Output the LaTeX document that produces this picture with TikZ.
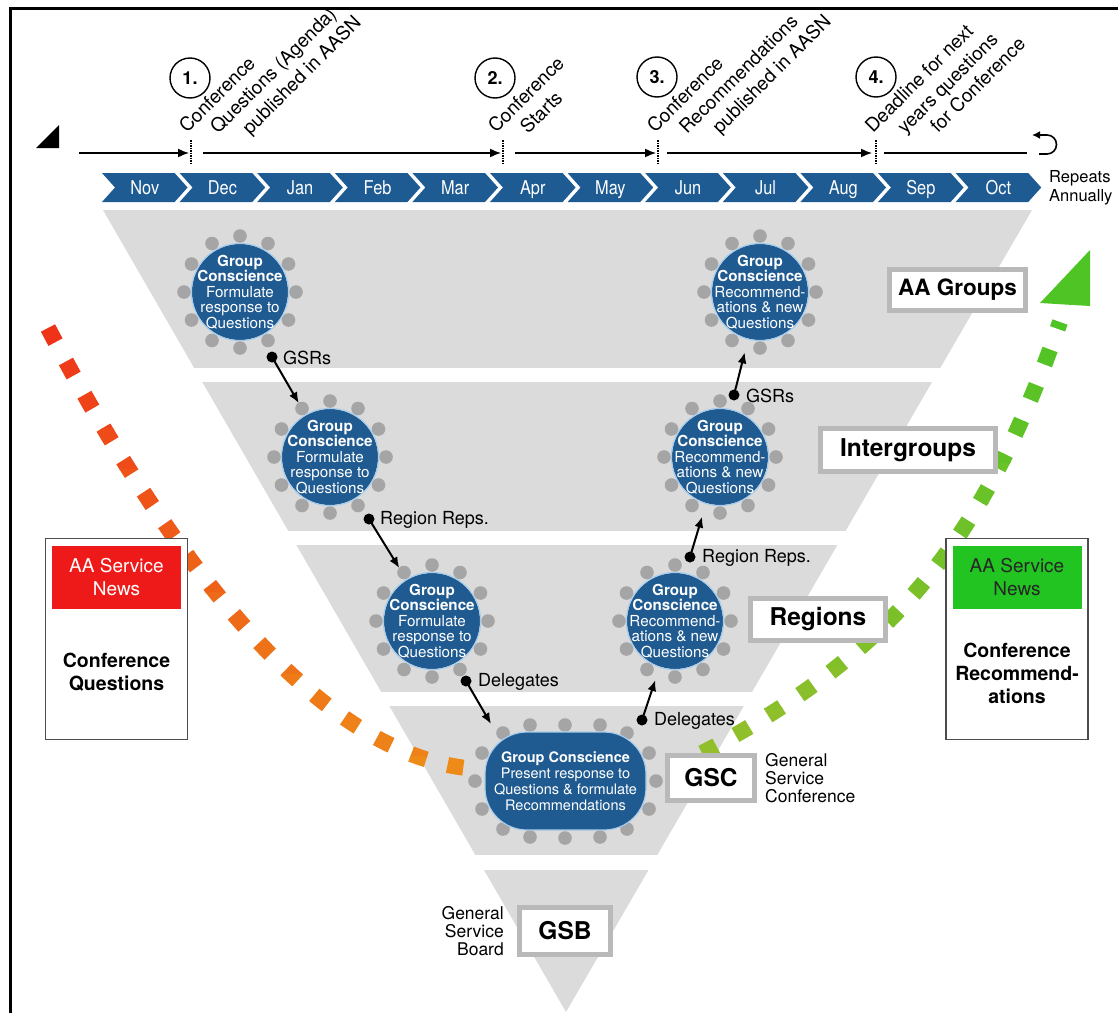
\documentclass[tikz,border=0pt]{standalone}
\usepackage{fontspec}
\setmainfont{TeX Gyre Heros}
\newfontfamily\condfont[FakeStretch=0.86]{TeX Gyre Heros}
\usetikzlibrary{arrows.meta,calc}
\definecolor{gcblue}{HTML}{1F5A90}
\definecolor{chevblue}{HTML}{1E5B93}
\definecolor{bandgray}{HTML}{DBDBDB}
\definecolor{dotgray}{HTML}{A5A5A5}
\definecolor{boxgray}{HTML}{B9B9B9}
\definecolor{ringblue}{HTML}{A8CDEB}
\definecolor{newsred}{HTML}{EE1A1A}
\definecolor{newsgreen}{HTML}{22C422}
\definecolor{redA}{HTML}{EE3318}
\definecolor{orA}{HTML}{EE8A18}
\definecolor{gTop}{HTML}{4EC425}
\definecolor{gBot}{HTML}{95BE2C}
\newcommand{\fsz}[2]{\fontsize{#1}{#2}\selectfont}
\tikzset{
 gc/.style={circle, minimum size=124pt, inner sep=0pt, text=white, align=center, font=\fsz{15.2}{15.6}},
 lvlbox/.style={draw=boxgray, line width=5pt, fill=white, inner sep=0pt, font=\bfseries\fsz{24.5}{26}},
 lab/.style={anchor=west, inner sep=0pt, font=\fsz{18}{20}},
 bdot/.style={circle, fill=black, inner sep=0pt, minimum size=11pt},
 arr/.style={line width=2pt, -{Latex[length=11pt,width=9pt]}},
 tl/.style={line width=1.5pt, -{Latex[length=11pt,width=9pt]}},
 rlab/.style={rotate=45, anchor=base west, inner sep=0pt, font=\fsz{19}{20}},
 numc/.style={circle, draw, line width=1.4pt, minimum size=40pt, inner sep=0pt, font=\bfseries\fsz{18}{18}},
 month/.style={anchor=base, text=white, inner sep=0pt, font=\condfont\fsz{19}{19}},
 dl/.style={line width=16pt, dash pattern=on 16pt off 22pt},
 redp/.style={insert path={(48,328) .. controls (170,560) and (320,760) .. (478,769)}},
 grnp/.style={insert path={(668,770) .. controls (902,658) and (987,529) .. (1060,322)}},
 tmark/.style={densely dotted, line width=1.5pt},
}
\newcommand{\gcirc}[3]{%
 \foreach \a in {0,30,...,330} {\fill[dotgray] ($#2+(\a:56)$) circle (6.8);}
 \fill[gcblue] #2 circle (48);
 \draw[ringblue, line width=1.2pt] #2 circle (48.6);
 \node[gc] (#1) at #2 {#3};
}
\begin{document}
\begin{tikzpicture}[x=1pt,y=-1pt]
\useasboundingbox (0,0) rectangle (1118,1012);
\fill[white] (0,0) rectangle (1118,1012);

% funnel bands
\begin{scope}
\clip (103,210) -- (1032,210) -- (566,1012) -- cycle;
\foreach \a/\b in {210/368,382/531,545/692,706/855,870/1013} \fill[bandgray] (0,\a) rectangle (1118,\b);
\end{scope}

% timeline
\fill (36,148) -- (59,148) -- (59,125) -- cycle;
\coordinate (t0) at (79,153);
\coordinate (m1) at (191,153);
\coordinate (m2) at (503,153);
\coordinate (m3) at (658,153);
\coordinate (m4) at (876,153);
\coordinate (t5) at (1027,153);
\draw[tl, shorten >=2pt] (t0) -- (m1);
\draw[tl, shorten <=12pt, shorten >=2pt] (m1) -- (m2);
\draw[tl, shorten <=12pt, shorten >=2pt] (m2) -- (m3);
\draw[tl, shorten <=9pt, shorten >=4pt] (m3) -- (m4);
\draw[line width=1.5pt, shorten <=8pt] (m4) -- (t5);
\foreach \m in {m1,m2,m3,m4} \draw[tmark] ($(\m)+(0,-13)$) -- ($(\m)+(0,11)$);
\draw[line width=1.6pt, -{Latex[length=8pt,width=8pt]}] (1039,154) -- (1047,154) arc[start angle=90, end angle=-90, radius=9.5] -- (1032,135);

\node[numc] (n1) at (190,78) {1.};
\node[numc] (n2) at (495,78) {2.};
\node[numc] (n3) at (657,77) {3.};
\node[numc] (n4) at (876,77) {4.};

\node[rlab] (r1a) at (187,134) {Conference};
\node[rlab] (r1b) at (218,135) {Questions (Agenda)};
\node[rlab] (r1c) at (250,136) {published in AASN};
\node[rlab] (r2a) at (496,134) {Conference};
\node[rlab] (r2b) at (528,135) {Starts};
\node[rlab] (r3a) at (655,134) {Conference};
\node[rlab] (r3b) at (687,135) {Recommendations};
\node[rlab] (r3c) at (720,135) {published in AASN};
\node[rlab] (r4a) at (873,134) {Deadline for next};
\node[rlab] (r4b) at (905,135) {years questions};
\node[rlab] (r4c) at (938,134) {for Conference};

% months
\foreach \m [count=\i from 0] in {Nov,Dec,Jan,Feb,Mar,Apr,May,Jun,Jul,Aug,Sep,Oct} {
 \pgfmathsetmacro\xo{102+77.6*\i}
 \fill[chevblue] (\xo,173) -- ++(72.6,0) -- ++(13,14.5) -- ++(-13,14.5) -- ++(-72.6,0) -- ++(13,-14.5) -- cycle;
 \node[month] (mo\i) at (\xo+42.8,194.5) {\m};
}
\node[anchor=west, align=left, inner sep=0pt, font=\fsz{16.5}{19.5}] (rep) at (1049,188) {Repeats\\Annually};

% dashed flows
\foreach \i in {0,...,11} {
 \pgfmathsetmacro\p{100*\i/11}
 \begin{scope}
 \clip (0,{305+\i*41}) rectangle (1118,{346.5+\i*41});
 \draw[dl, draw=orA!\p!redA, redp];
 \end{scope}
}
\foreach \i in {0,...,11} {
 \pgfmathsetmacro\p{100*\i/11}
 \begin{scope}
 \clip (0,{749-\i*41}) rectangle (1118,{790.5-\i*41});
 \draw[dl, draw=gTop!\p!gBot, grnp];
 \end{scope}
}
\fill[gTop] (1040,303) -- (1090,250) -- (1090,306) -- cycle;

% group conscience circles
\gcirc{c1}{(240,292)}{\textbf{Group}\\\textbf{Conscience}\\Formulate\\response to\\Questions}
\gcirc{c2}{(330,457)}{\textbf{Group}\\\textbf{Conscience}\\Formulate\\response to\\Questions}
\gcirc{c3}{(432,621)}{\textbf{Group}\\\textbf{Conscience}\\Formulate\\response to\\Questions}
\gcirc{c4}{(760,292)}{\textbf{Group}\\\textbf{Conscience}\\Recommend-\\ations \& new\\Questions}
\gcirc{c5}{(720,457)}{\textbf{Group}\\\textbf{Conscience}\\Recommend-\\ations \& new\\Questions}
\gcirc{c6}{(675,621)}{\textbf{Group}\\\textbf{Conscience}\\Recommend-\\ations \& new\\Questions}

% GSC table
\foreach \q in {(503,733),(530,725),(565,725),(600,725),(627,733),(482,753),(475,781),(482,809),(649,753),(656,781),(649,809),(503,829),(530,837),(565,838),(600,837),(627,829)}
 \fill[dotgray] \q circle (6.8);
\fill[gcblue, rounded corners=42pt] (485,732) rectangle (646,830);
\draw[ringblue, line width=1.2pt, rounded corners=42pt] (485,732) rectangle (646,830);
\node[text=white, align=center, inner sep=0pt, font=\fsz{14.5}{15.8}] (gsc) at (565.5,781) {\textbf{Group Conscience}\\Present response to\\Questions \& formulate\\Recommendations};
\coordinate (gscin) at (491,724);

% representatives arrows
\node[bdot] (d1) at (272,357) {};
\node[bdot] (d2) at (369,519) {};
\node[bdot] (d3) at (466,681) {};
\node[bdot] (d4) at (642,720) {};
\node[bdot] (d5) at (690,557) {};
\node[bdot] (d6) at (734,395) {};
\draw[arr] (d1.center) -- (c2);
\draw[arr] (d2.center) -- (c3);
\draw[arr] (d3.center) -- (gscin);
\draw[arr] (d4.center) -- (c6);
\draw[arr] (d5.center) -- (c5);
\draw[arr] (d6.center) -- (c4);
\node[lab] (l1) at (283,358) {GSRs};
\node[lab] (l2) at (380,520) {Region Reps.};
\node[lab] (l3) at (478,682) {Delegates};
\node[lab] (l4) at (654,721) {Delegates};
\node[lab] (l5) at (702,558) {Region Reps.};
\node[lab] (l6) at (746,396) {GSRs};

% level boxes
\node[lvlbox, minimum width=136pt, minimum height=41pt, font=\bfseries\fsz{22.5}{24}] (aag) at (957.5,290) {AA Groups};
\node[lvlbox, minimum width=175pt, minimum height=43pt] (ig) at (908,450) {Intergroups};
\node[lvlbox, minimum width=135pt, minimum height=42pt] (rg) at (818,619) {Regions};
\node[lvlbox, minimum width=87pt, minimum height=45pt] (gscb) at (711,778) {GSC};
\node[lvlbox, minimum width=91pt, minimum height=47pt] (gsbb) at (565,931) {GSB};
\node[anchor=west, align=left, inner sep=0pt, font=\fsz{17.5}{18}] (gsct) at (765,778) {General\\Service\\Conference};
\node[anchor=east, align=right, inner sep=0pt, font=\fsz{17.5}{18}] (gsbt) at (504,931) {General\\Service\\Board};

% side boxes
\node[draw=black!70, line width=1.5pt, fill=white, minimum width=142pt, minimum height=201pt, inner sep=0pt] (lbox) at (116.5,639) {};
\node[fill=newsred, minimum width=129pt, minimum height=63pt, inner sep=0pt, text=white, align=center, font=\fsz{19}{23}] (lnews) at (116.5,577.5) {AA Service\\News};
\node[align=center, inner sep=0pt, font=\bfseries\fsz{19.5}{23}] (lq) at (116.5,672) {Conference\\Questions};
\node[draw=black!70, line width=1.5pt, fill=white, minimum width=142pt, minimum height=201pt, inner sep=0pt] (rbox) at (1017,639) {};
\node[fill=newsgreen, minimum width=129pt, minimum height=63pt, inner sep=0pt, text=black!85, align=center, font=\fsz{19}{23}] (rnews) at (1017,577.5) {AA Service\\News};
\node[align=center, inner sep=0pt, font=\bfseries\fsz{19.5}{23}] (rq) at (1017,673) {Conference\\Recommend-\\ations};

% frame
\draw[line width=3pt] (10,1013) -- (10,8) -- (1119,8);
\end{tikzpicture}
\end{document}
